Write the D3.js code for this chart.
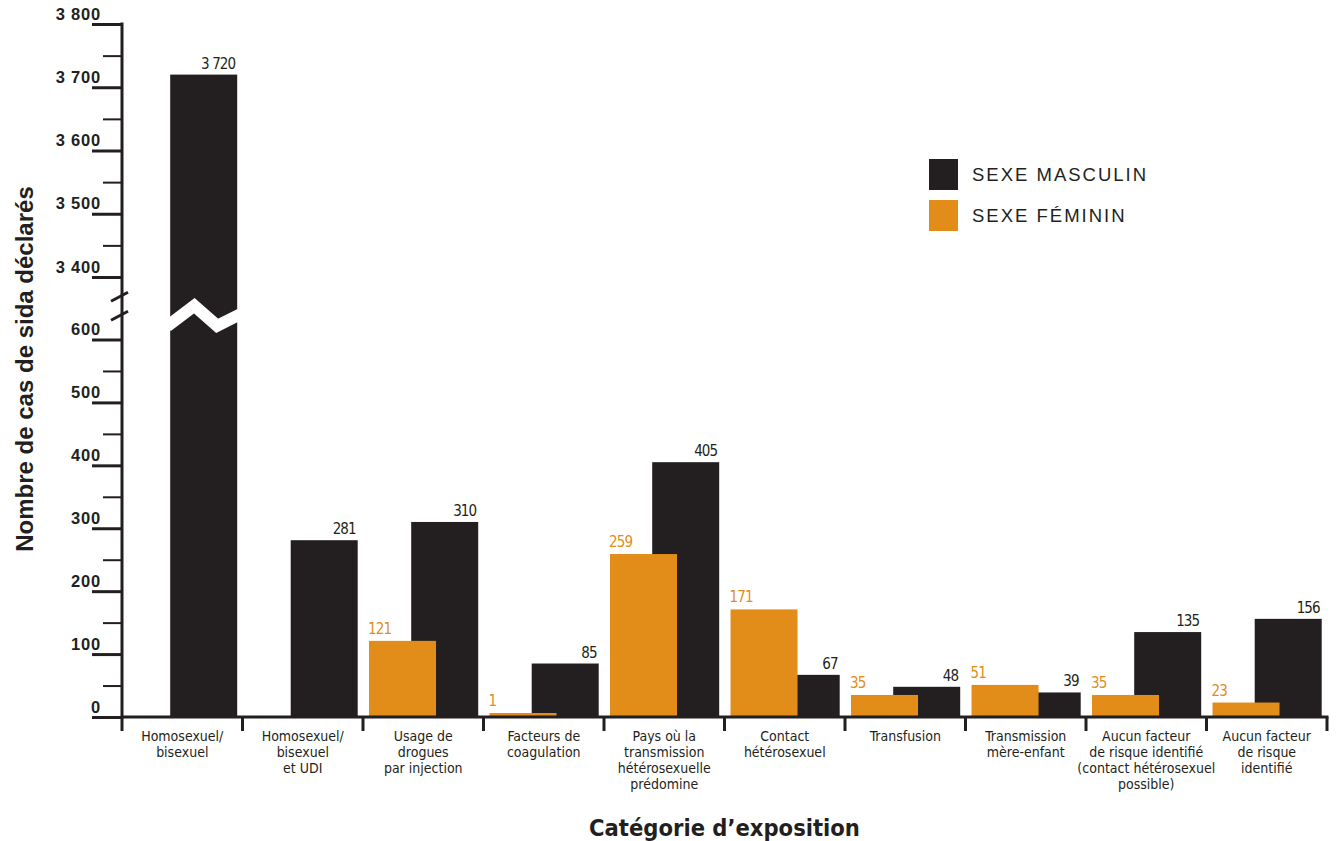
<!DOCTYPE html>
<html lang="fr">
<head>
<meta charset="utf-8">
<script src="https://cdn.jsdelivr.net/npm/d3@7"></script>
<style>
  body { margin: 0; background: #fff; }
  svg { display: block; }
</style>
</head>
<body>
<svg id="chart" width="1338" height="841"></svg>
<script>
const categories = [
    "Homosexuel/\nbisexuel",
    "Homosexuel/\nbisexuel\net UDI",
    "Usage de\ndrogues\npar injection",
    "Facteurs de\ncoagulation",
    "Pays où la\ntransmission\nhétérosexuelle\nprédomine",
    "Contact\nhétérosexuel",
    "Transfusion",
    "Transmission\nmère-enfant",
    "Aucun facteur\nde risque identifié\n(contact hétérosexuel\npossible)",
    "Aucun facteur\nde risque\nidentifié"
];
const maleCases = [3720, 281, 310, 85, 405, 67, 48, 39, 135, 156];
const femaleCases = [null, null, 121, 1, 259, 171, 35, 51, 35, 23];
const seriesNames = ["SEXE MASCULIN", "SEXE FÉMININ"];
const lowerTicks = [0, 100, 200, 300, 400, 500, 600];
const lowerMinorTicks = [50, 150, 250, 350, 450, 550];
const upperTicks = [3400, 3500, 3600, 3700, 3800];
const upperMinorTicks = [3450, 3550, 3650, 3750];
const xTitle = "Catégorie d’exposition";
const yTitle = "Nombre de cas de sida déclarés";

const INK = "#231f20";
const ORANGE = "#e28c1a";
const NARROW = "'Liberation Sans Narrow', 'Arial Narrow', 'DejaVu Sans Condensed', sans-serif";
const SANS = "'Liberation Sans', Arial, Helvetica, sans-serif";

let svg = d3.select("#chart");
let fmt = d3.formatLocale({ decimal: ",", thousands: " ", grouping: [3], currency: ["", ""] }).format(",d");

let x = d3.scaleBand().domain(categories).range([122, 1327]);
let yLow = d3.scaleLinear().domain([0, 600]).range([717, 339.5]);
let yHigh = d3.scaleLinear().domain([3400, 3800]).range([277, 24]);
let yPos = v => v > 600 ? yHigh(v) : yLow(v);
let bw = x.bandwidth();
let barW = bw * 0.556;

let data = categories.map((c, i) => ({ cat: c, male: maleCases[i], female: femaleCases[i] }));

// bars: black behind, orange on top
let gBars = svg.append("g").classed("bars", true);
gBars.selectAll("rect.male")
    .data(data)
    .enter()
    .append("rect")
        .attr("class", "male")
        .attr("x", d => x(d.cat) + bw * 0.4)
        .attr("width", barW)
        .attr("y", d => yPos(d.male))
        .attr("height", d => yLow(0) - yPos(d.male))
        .attr("fill", INK);

let femaleTop = d => yLow(0) - Math.max(yLow(0) - yLow(d.female), 4);
let femaleData = data.filter(d => d.female != null);
gBars.selectAll("rect.female")
    .data(femaleData)
    .enter()
    .append("rect")
        .attr("class", "female")
        .attr("x", d => x(d.cat) + bw * 0.05)
        .attr("width", barW)
        .attr("y", femaleTop)
        .attr("height", d => yLow(0) - femaleTop(d))
        .attr("fill", ORANGE);

// zigzag break on the bars that cross the gap
let breakY = (yHigh(3400) + yLow(600)) / 2;
data.filter(d => d.male > 600).forEach(d => {
    let x0 = x(d.cat) + bw * 0.4;
    gBars.append("path")
        .attr("d", d3.line()([
            [x0 - 3, breakY + 18],
            [x0 + barW * 0.36, breakY - 2.5],
            [x0 + barW * 0.7, breakY + 17.5],
            [x0 + barW + 3, breakY + 6]
        ]))
        .attr("fill", "none")
        .attr("stroke", "#fff")
        .attr("stroke-width", 12);
});

// value labels
let gLabels = svg.append("g").attr("font-family", NARROW).attr("font-size", 15).attr("letter-spacing", -0.9);
gLabels.selectAll("text.male")
    .data(data)
    .enter()
    .append("text")
        .attr("x", d => x(d.cat) + bw * 0.4 + barW - 2)
        .attr("y", d => yPos(d.male) - 6)
        .attr("text-anchor", "end")
        .attr("fill", INK)
        .text(d => fmt(d.male));
gLabels.selectAll("text.female")
    .data(femaleData)
    .enter()
    .append("text")
        .attr("x", d => x(d.cat) + bw * 0.05 - 1)
        .attr("y", d => femaleTop(d) - 7)
        .attr("fill", ORANGE)
        .text(d => fmt(d.female));

// y axis
let axisX = x.range()[0];
let styleAxis = (g, width) => {
    g.select(".domain").remove();
    g.selectAll(".tick line").attr("stroke", INK).attr("stroke-width", width);
    g.attr("font-family", SANS).attr("font-size", 16.5).attr("font-weight", "bold");
    g.selectAll(".tick text")
        .attr("x", -21)
        .attr("dy", "-0.3em")
        .attr("fill", INK)
        .attr("letter-spacing", 0.8);
};
[[yHigh, upperTicks, upperMinorTicks], [yLow, lowerTicks, lowerMinorTicks]].forEach(([s, major, minor]) => {
    svg.append("g")
        .attr("transform", `translate(${axisX},0)`)
        .call(d3.axisLeft(s).tickValues(major).tickSize(30).tickFormat(fmt))
        .call(g => styleAxis(g, 3));
    svg.append("g")
        .attr("transform", `translate(${axisX},0)`)
        .call(d3.axisLeft(s).tickValues(minor).tickSize(19).tickFormat(""))
        .call(g => styleAxis(g, 2));
});
svg.append("path")
    .attr("d", d3.line()([[axisX, yHigh(3800) - 1.5], [axisX, yLow(0) + 1.5]]))
    .attr("stroke", INK)
    .attr("stroke-width", 3);
[-12, 7].forEach(off => {
    svg.append("path")
        .attr("d", d3.line()([[axisX - 11, breakY + off + 5], [axisX + 6, breakY + off - 4]]))
        .attr("stroke", INK)
        .attr("stroke-width", 3);
});

// x axis
let xEnd = x.range()[1];
svg.append("path")
    .attr("d", d3.line()([[axisX, yLow(0)], [xEnd + 1.5, yLow(0)]]))
    .attr("stroke", INK)
    .attr("stroke-width", 3);
svg.append("g").selectAll("path")
    .data(categories.map(c => x(c)).concat([xEnd]))
    .enter()
    .append("path")
        .attr("d", d => d3.line()([[d, yLow(0)], [d, yLow(0) + 14]]))
        .attr("stroke", INK)
        .attr("stroke-width", 3);

let gCat = svg.append("g").attr("font-family", NARROW).attr("font-size", 14).attr("fill", INK);
gCat.selectAll("text")
    .data(categories)
    .enter()
    .append("text")
        .attr("text-anchor", "middle")
        .attr("transform", d => `translate(${x(d) + bw / 2},740.5)`)
        .selectAll("tspan")
        .data(d => d.split("\n"))
        .enter()
        .append("tspan")
            .attr("x", 0)
            .attr("y", (d, i) => i * 16)
            .text(d => d);

// titles
svg.append("text")
    .attr("x", (axisX + xEnd) / 2)
    .attr("y", 836)
    .attr("text-anchor", "middle")
    .attr("font-family", NARROW)
    .attr("font-weight", "bold")
    .attr("font-size", 23.5)
    .attr("fill", INK)
    .text(xTitle);
svg.append("text")
    .attr("transform", "translate(33,369) rotate(-90)")
    .attr("text-anchor", "middle")
    .attr("font-family", SANS)
    .attr("font-weight", "bold")
    .attr("font-size", 24)
    .attr("fill", INK)
    .text(yTitle);

// legend
let gLegend = svg.append("g").attr("transform", "translate(929,159)");
let legendItems = gLegend.selectAll("g")
    .data(seriesNames)
    .enter()
    .append("g")
        .attr("transform", (d, i) => `translate(0,${i * 41})`);
legendItems.append("rect")
    .attr("width", 29)
    .attr("height", 31)
    .attr("fill", (d, i) => i === 0 ? INK : ORANGE);
legendItems.append("text")
    .attr("x", 43)
    .attr("y", 21.5)
    .attr("font-family", SANS)
    .attr("font-size", 18.5)
    .attr("letter-spacing", 2)
    .attr("fill", INK)
    .text(d => d);
</script>
</body>
</html>
